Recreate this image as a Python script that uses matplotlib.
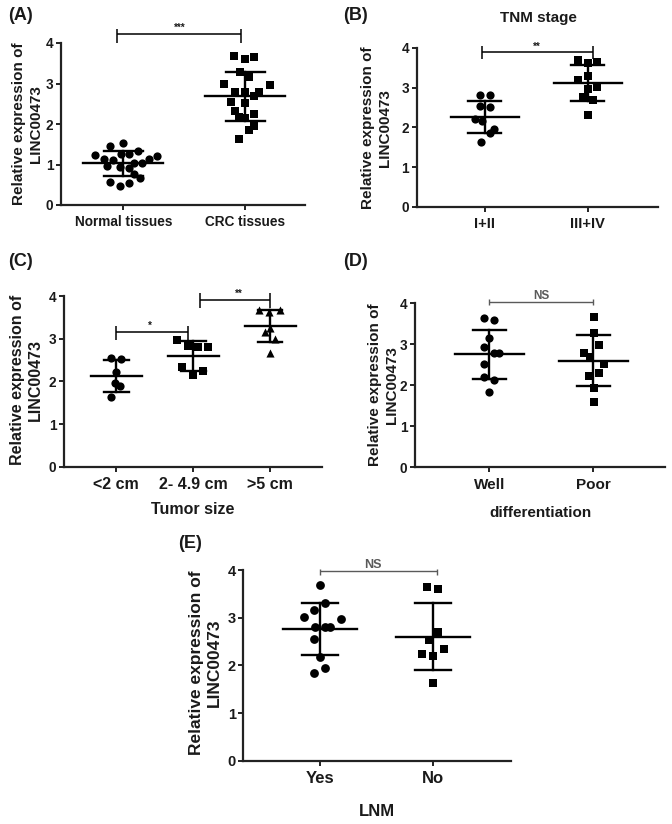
import matplotlib
matplotlib.use("Agg")
import matplotlib.pyplot as plt

plt.rcParams['font.family'] = ['Liberation Sans', 'DejaVu Sans']
plt.rcParams['font.weight'] = 'bold'
TXT = '#1a1a1a'

# ---------------- data ----------------
# (A)
a_cats = ['Normal tissues', 'CRC tissues']
a_normal = [1.46, 1.52, 1.33, 1.23, 1.21, 1.26, 1.25, 1.13, 1.11, 1.13,
            1.03, 1.03, 0.96, 0.93, 0.91, 0.76, 0.66, 0.56, 0.47, 0.55]
a_normal_dx = [-0.107, 0.0, 0.125, -0.235, 0.28, 0.045, -0.02, -0.156, -0.08, 0.21,
               0.085, 0.15, -0.134, -0.03, 0.045, 0.085, 0.134, -0.107, -0.03, 0.045]
a_crc = [3.68, 3.60, 3.66, 3.28, 3.17, 3.00, 2.96, 2.80, 2.78, 2.80,
         2.68, 2.54, 2.51, 2.32, 2.25, 2.17, 2.14, 1.95, 1.85, 1.62]
a_crc_dx = [-0.088, 0.0, 0.074, -0.04, 0.035, -0.17, 0.2, -0.08, 0.0, 0.117,
            0.074, -0.12, 0.0, -0.08, 0.074, -0.047, 0.0, 0.074, 0.035, -0.047]
a_mean = [1.03, 2.68]
a_sd = [0.31, 0.60]

# (B)
b_cats = ['I+II', 'III+IV']
b_g1 = [2.80, 2.80, 2.54, 2.51, 2.21, 2.17, 1.95, 1.85, 1.62]
b_g1_dx = [-0.048, 0.055, -0.048, 0.055, -0.09, -0.03, 0.09, 0.048, -0.04]
b_g2 = [3.69, 3.62, 3.65, 3.29, 3.19, 2.96, 3.02, 2.77, 2.69, 2.31]
b_g2_dx = [-0.097, 0.0, 0.09, 0.0, -0.097, 0.0, 0.09, -0.048, 0.048, 0.0]
b_mean = [2.26, 3.12]
b_sd = [0.40, 0.45]

# (C)
c_cats = ['<2 cm', '2- 4.9 cm', '>5 cm']
c_g1 = [2.55, 2.52, 2.23, 1.97, 1.88, 1.64]
c_g1_dx = [-0.065, 0.065, 0.0, -0.02, 0.05, -0.065]
c_g2 = [2.98, 2.83, 2.80, 2.80, 2.34, 2.24, 2.15]
c_g2_dx = [-0.21, -0.065, 0.065, 0.195, -0.14, 0.13, 0.0]
c_g3 = [3.67, 3.63, 3.67, 3.24, 3.16, 2.99, 2.67]
c_g3_dx = [-0.15, -0.01, 0.13, 0.0, -0.065, 0.065, 0.0]
c_mean = [2.12, 2.59, 3.30]
c_sd = [0.37, 0.345, 0.37]

# (D)
d_cats = ['Well', 'Poor']
d_g1 = [3.63, 3.59, 3.16, 2.94, 2.78, 2.78, 2.52, 2.21, 2.13, 1.84]
d_g1_dx = [-0.05, 0.045, 0.0, -0.05, 0.045, 0.093, -0.05, -0.05, 0.045, 0.0]
d_g2 = [3.66, 3.28, 2.98, 2.80, 2.68, 2.51, 2.29, 2.22, 1.94, 1.60]
d_g2_dx = [0.01, 0.01, 0.058, -0.087, -0.032, 0.1, 0.058, -0.04, 0.01, 0.01]
d_mean = [2.76, 2.60]
d_sd = [0.60, 0.615]

# (E)
e_cats = ['Yes', 'No']
e_g1 = [3.69, 3.30, 3.17, 3.01, 2.97, 2.80, 2.80, 2.80, 2.55, 2.17, 1.85, 1.95]
e_g1_dx = [0.0, 0.044, -0.053, -0.14, 0.185, -0.044, 0.044, 0.088, -0.053, 0.0, -0.053, 0.044]
e_g2 = [3.64, 3.61, 2.69, 2.53, 2.34, 2.24, 2.20, 1.62]
e_g2_dx = [-0.05, 0.047, 0.047, -0.035, 0.094, -0.094, 0.0, 0.0]
e_mean = [2.76, 2.60]
e_sd = [0.55, 0.70]

yticks = [0, 1, 2, 3, 4]
ylab = 'Relative expression of\nLINC00473'

# ---------------- figure ----------------
W, H = 672, 824
fig = plt.figure(figsize=(W / 100, H / 100), dpi=100)


def px_axes(x0, x1, ytop, ybot):
    return fig.add_axes([x0 / W, 1 - ybot / H, (x1 - x0) / W, (ybot - ytop) / H])


def style(ax, cats, xlim, tfs, yfs):
    ax.set_xlim(*xlim)
    ax.set_ylim(0, 4)
    for s in ['top', 'right']:
        ax.spines[s].set_visible(False)
    for s in ['left', 'bottom']:
        ax.spines[s].set_linewidth(1.6)
        ax.spines[s].set_color('#222222')
    ax.set_yticks(yticks)
    ax.set_yticklabels([str(t) for t in yticks], fontsize=yfs, fontweight='bold', color=TXT)
    ax.set_xticks(range(len(cats)))
    ax.set_xticklabels(cats, fontsize=tfs, fontweight='bold', color=TXT)
    ax.tick_params(axis='both', length=3.5, width=1.4, color='#222222', pad=2)
    ax.tick_params(axis='x', pad=4)


def group(ax, i, vals, dx, marker, s, mean, sd):
    ax.scatter([i + d for d in dx], vals, marker=marker, s=s, color='black',
               linewidths=0, zorder=3, clip_on=False)
    ax.plot([i - 0.33, i + 0.33], [mean, mean], color='black', lw=1.7, zorder=4)
    ax.plot([i - 0.16, i + 0.16], [mean + sd, mean + sd], color='black', lw=1.7, zorder=4)
    ax.plot([i - 0.16, i + 0.16], [mean - sd, mean - sd], color='black', lw=1.7, zorder=4)
    ax.plot([i, i], [mean - sd, mean + sd], color='black', lw=1.7, zorder=4)


def sig(ax, x0, x1, y, ylo, yhi, text, tx, ty, color='black', lw=1.1, fs=7):
    kw = dict(color=color, lw=lw, clip_on=False, solid_capstyle='butt')
    ax.plot([x0, x1], [y, y], **kw)
    ax.plot([x0, x0], [ylo, yhi], **kw)
    ax.plot([x1, x1], [ylo, yhi], **kw)
    ax.text(tx, ty, text, ha='center', va='bottom', fontsize=fs,
            fontweight='bold', color=color if color != 'black' else TXT, clip_on=False)


def ylabel(xc, yc, fs):
    fig.text(xc / W, 1 - yc / H, ylab, rotation=90, ha='center', va='center',
             fontsize=fs, fontweight='bold', color=TXT, multialignment='center',
             linespacing=1.25)


def plabel(x, y, s, fs=13):
    fig.text(x / W, 1 - y / H, s, ha='left', va='center', fontsize=fs,
             fontweight='bold', color=TXT)


# (A)
axA = px_axes(61, 305, 43, 205)
style(axA, a_cats, (-0.51, 1.49), 9.8, 9.8)
group(axA, 0, a_normal, a_normal_dx, 'o', 35, a_mean[0], a_sd[0])
group(axA, 1, a_crc, a_crc_dx, 's', 30, a_mean[1], a_sd[1])
sig(axA, -0.05, 0.965, 4.22, 4.0, 4.35, '***', 0.46, 4.24)
ylabel(27.5, 124, 11)
plabel(8, 15, '(A)')

# (B)
axB = px_axes(416.7, 658, 47.7, 207)
style(axB, b_cats, (-0.66, 1.68), 10.5, 9.8)
group(axB, 0, b_g1, b_g1_dx, 'o', 35, b_mean[0], b_sd[0])
group(axB, 1, b_g2, b_g2_dx, 's', 30, b_mean[1], b_sd[1])
sig(axB, -0.03, 1.05, 3.88, 3.71, 4.05, '**', 0.5, 3.9)
ylabel(376.7, 128, 11)
plabel(343, 15, '(B)')
fig.text(538 / W, 1 - 18 / H, 'TNM stage', ha='center', va='center', fontsize=11,
         fontweight='bold', color=TXT)

# (C)
axC = px_axes(64, 321.7, 296, 466.7)
style(axC, c_cats, (-0.68, 2.67), 11.5, 9.8)
group(axC, 0, c_g1, c_g1_dx, 'o', 35, c_mean[0], c_sd[0])
group(axC, 1, c_g2, c_g2_dx, 's', 30, c_mean[1], c_sd[1])
group(axC, 2, c_g3, c_g3_dx, '^', 34, c_mean[2], c_sd[2])
sig(axC, 0.0, 0.935, 3.16, 2.98, 3.30, '*', 0.43, 3.18)
sig(axC, 1.09, 2.0, 3.91, 3.73, 4.06, '**', 1.59, 3.93)
ylabel(26.7, 380, 11.5)
plabel(8, 261, '(C)')
fig.text(193 / W, 1 - 510 / H, 'Tumor size', ha='center', va='center', fontsize=11.5,
         fontweight='bold', color=TXT)

# (D)
axD = px_axes(415, 665, 303.3, 467.3)
style(axD, d_cats, (-0.715, 1.69), 11, 9.8)
group(axD, 0, d_g1, d_g1_dx, 'o', 35, d_mean[0], d_sd[0])
group(axD, 1, d_g2, d_g2_dx, 's', 30, d_mean[1], d_sd[1])
sig(axD, 0.0, 1.0, 4.03, 3.95, 4.10, 'NS', 0.5, 4.02, color='#5a5a5a', lw=1.0, fs=8.5)
ylabel(383.3, 385, 11)
plabel(343, 261, '(D)')
fig.text(541 / W, 1 - 513 / H, 'differentiation', ha='center', va='center', fontsize=11,
         fontweight='bold', color=TXT)

# (E)
axE = px_axes(243.3, 511, 570, 760.7)
style(axE, e_cats, (-0.68, 1.69), 12, 10.5)
group(axE, 0, e_g1, e_g1_dx, 'o', 40, e_mean[0], e_sd[0])
group(axE, 1, e_g2, e_g2_dx, 's', 34, e_mean[1], e_sd[1])
sig(axE, 0.0, 1.035, 3.97, 3.90, 4.03, 'NS', 0.47, 3.98, color='#5a5a5a', lw=1.0, fs=9)
ylabel(205.5, 663, 12.5)
plabel(178, 543, '(E)')
fig.text(377 / W, 1 - 811.7 / H, 'LNM', ha='center', va='center', fontsize=12,
         fontweight='bold', color=TXT)

fig.savefig('out.png', dpi=100)
